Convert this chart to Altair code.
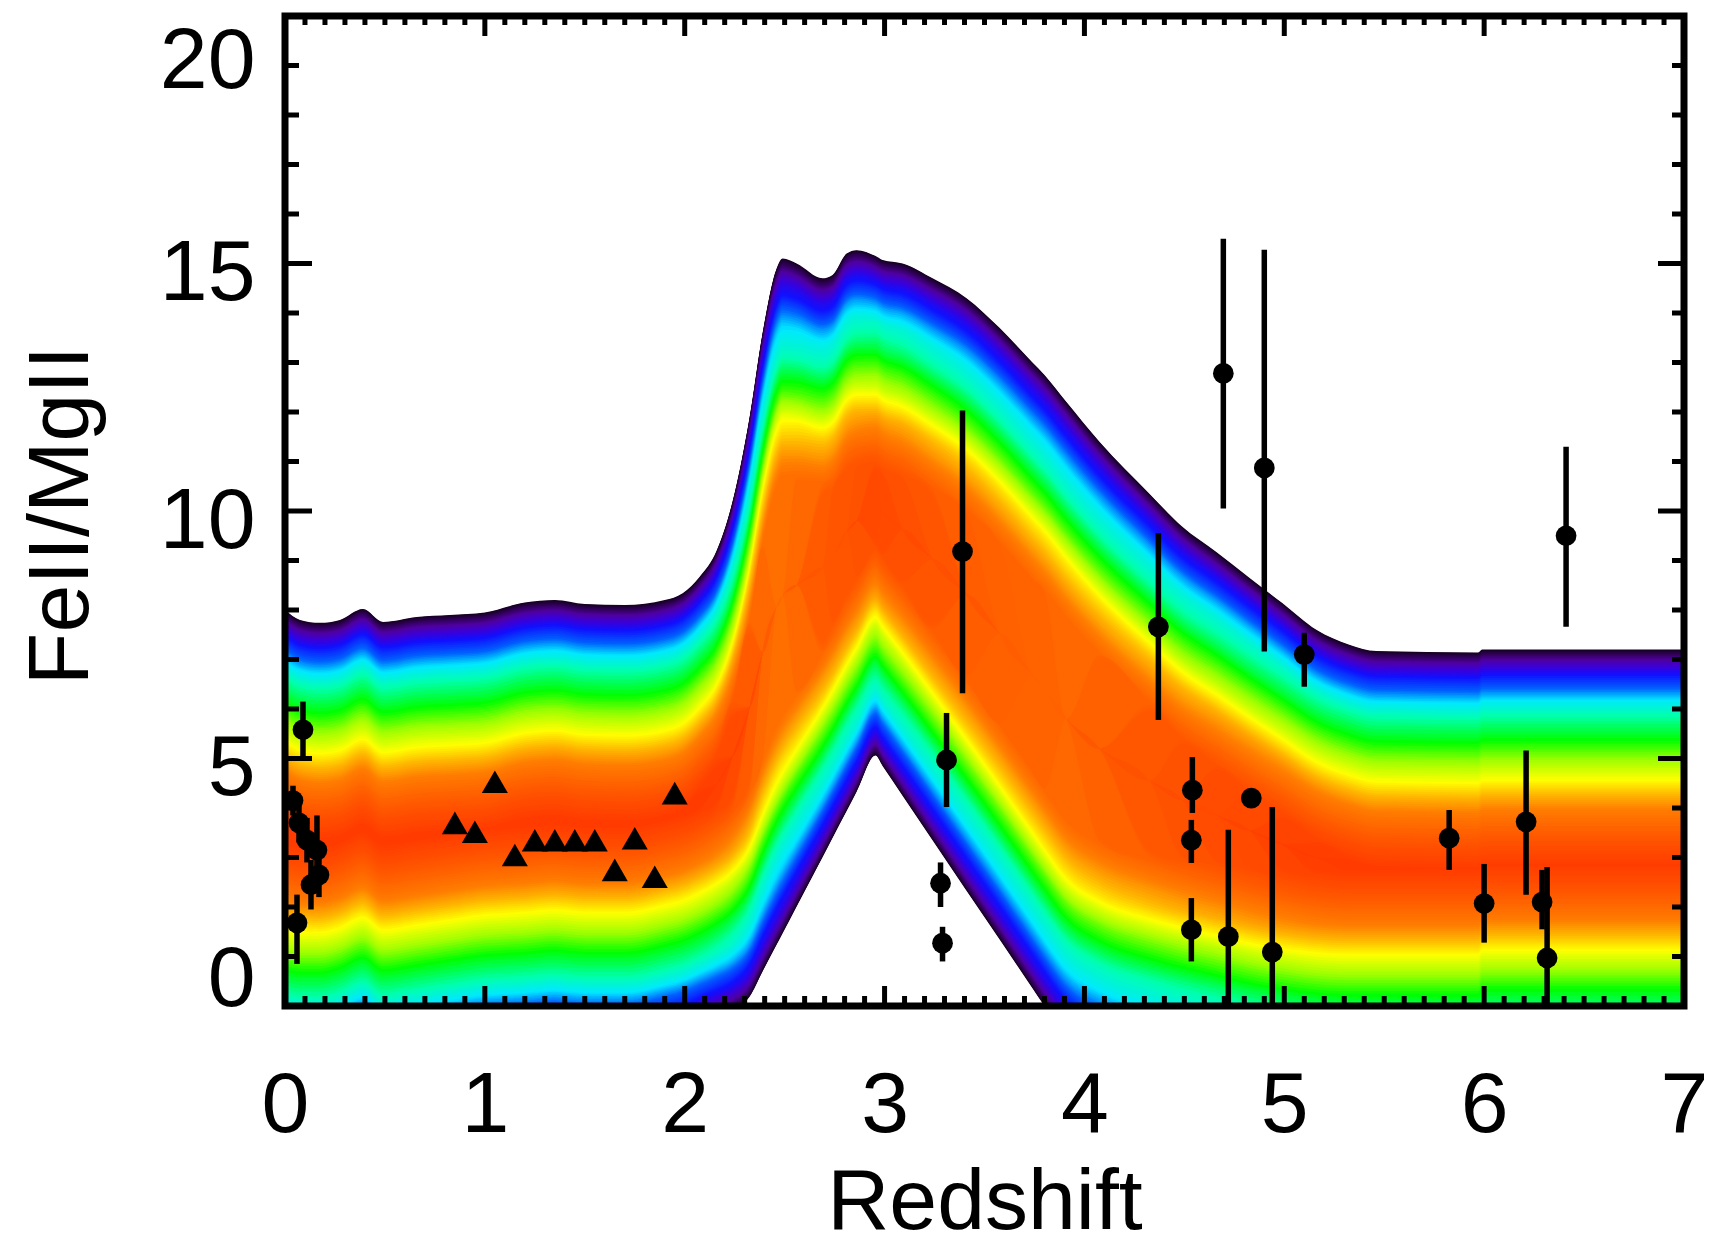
import altair as alt
import numpy as np
import pandas as pd

# ---------------- data ----------------
# model band: upper and lower edge (FeII/MgII) at redshift knots
band_x = [0.0, 0.075, 0.175, 0.275, 0.39, 0.49, 0.66, 0.825, 1.0, 1.2, 1.35, 1.5, 1.7, 1.9,
          1.99, 2.075, 2.16, 2.24, 2.325, 2.39, 2.46, 2.49, 2.56, 2.69, 2.74, 2.81, 2.86,
          2.955, 2.99, 3.09, 3.24, 3.41, 3.575, 3.74, 3.8, 3.91, 4.075, 4.325, 4.49, 4.66,
          4.825, 4.99, 5.16, 5.325, 5.46, 5.97, 5.99, 7.0]
band_top = [8.0, 7.8, 7.74, 7.8, 8.02, 7.76, 7.86, 7.9, 7.95, 8.15, 8.2, 8.12, 8.1, 8.2,
            8.34, 8.67, 9.2, 10.2, 11.9, 13.6, 14.9, 15.1, 15.0, 14.7, 14.77, 15.2, 15.27,
            15.15, 15.07, 15.0, 14.7, 14.3, 13.7, 13.0, 12.75, 12.2, 11.4, 10.35, 9.68, 9.17,
            8.65, 8.14, 7.6, 7.3, 7.17, 7.14, 7.2, 7.2]
band_bot = [-1.1, -1.15, -1.15, -1.05, -0.85, -1.1, -1.0, -0.9, -0.8, -0.75, -0.7, -0.75, -0.75, -0.6,
            -0.5, -0.35, -0.22, -0.1, 0.19, 0.70, 1.24, 1.47, 2.01, 3.01, 3.40, 3.94, 4.33,
            5.06, 4.85, 4.25, 3.35, 2.33, 1.35, 0.36, 0.0, -0.6, -1.0, -1.25, -1.35, -1.45,
            -1.55, -1.6, -1.6, -1.6, -1.6, -1.6, -1.5, -1.5]

# quasars with error bars (filled circles)
q_z = [0.09, 0.04, 0.07, 0.11, 0.16, 0.17, 0.13, 0.06,
       3.39, 3.31, 3.28, 3.29, 4.37, 4.54, 4.535, 4.535, 4.695, 4.72, 4.835, 4.90, 4.94,
       5.10, 5.825, 6.00, 6.21, 6.29, 6.315, 6.41]
q_r = [5.58, 4.15, 3.70, 3.35, 3.15, 2.65, 2.45, 1.68,
       9.18, 4.97, 2.48, 1.27, 7.66, 4.36, 3.35, 1.54, 12.78, 1.40, 4.20, 10.87, 1.09,
       7.10, 3.39, 2.07, 3.72, 2.10, 0.97, 9.50]
q_lo = [5.05, 3.85, 3.30, 2.90, 2.75, 2.20, 1.95, 0.85,
        6.32, 4.02, 2.00, 0.90, 5.78, 3.90, 2.89, 0.90, 10.05, -1.0, 4.20, 7.16, -1.0,
        6.45, 2.75, 1.28, 2.25, 1.55, -1.0, 7.66]
q_hi = [6.15, 4.45, 4.10, 3.80, 3.85, 3.20, 2.95, 2.25,
        12.03, 5.92, 2.90, 1.60, 9.55, 5.03, 3.76, 2.18, 15.50, 3.56, 4.20, 15.28, 4.02,
        7.54, 3.96, 2.87, 5.16, 2.75, 2.81, 11.30]

# composite points (filled triangles)
t_z = [0.85, 0.95, 1.05, 1.15, 1.25, 1.35, 1.45, 1.55, 1.65, 1.75, 1.85, 1.95]
t_r = [3.70, 3.52, 4.53, 3.05, 3.35, 3.35, 3.35, 3.35, 2.75, 3.39, 2.61, 4.30]

x_ticks = [0, 1, 2, 3, 4, 5, 6, 7]
y_ticks = [0, 5, 10, 15, 20]

# ---------------- layout / style ----------------
W, H = 1399, 990
FONT = "Liberation Sans"
FS = 86

# rainbow colour scale: distance from the band edge (for a band of normal width) -> colour
stop_e = [0.0, 0.08, 0.21, 0.35, 0.51, 0.78, 1.02, 1.32, 1.83, 2.23, 2.63, 2.94, 3.24, 3.64, 4.0, 4.4]
stop_c = ["#160020", "#2c0050", "#5000a0", "#3c00d8", "#1010ff", "#0060ff", "#00e8ff", "#00ffb0",
          "#00ff00", "#a0ff00", "#ffff00", "#ffb400", "#ff7c00", "#ff6000", "#ff4c00", "#ff3a00"]
stop_i = list(np.linspace(0.0, 1.0, len(stop_e)))
W0, ALPHA = 9.0, 0.45   # wider bands are less dense -> less red


def _rgb(h):
    return [int(h[i:i + 2], 16) for i in (1, 3, 5)]


stop_rgb = np.array([_rgb(c) for c in stop_c], dtype=float)


def colour_at(i):
    r = [np.interp(i, stop_i, stop_rgb[:, k]) for k in range(3)]
    return "#%02x%02x%02x" % tuple(int(round(v)) for v in r)


n_lev = 110
di = 1.0 / n_lev
lev_names, lev_cols, rows = [], [], []
for k in range(n_lev):
    ik = k * di
    name = "L%03d" % k
    lev_names.append(name)
    lev_cols.append(colour_at(ik + di / 2))
    for x, t, b in zip(band_x, band_top, band_bot):
        s = min(1.0, (W0 / (t - b)) ** ALPHA)
        mid = (t + b) / 2.0
        if ik / s > 1.0:
            lo = hi = mid
        else:
            e = float(np.interp(ik / s, stop_i, stop_e))
            lo, hi = b + e, t - e
            if lo > hi:
                lo = hi = mid
        rows.append({"z": x, "lo": lo, "hi": hi, "lev": name})
band_df = pd.DataFrame(rows)

q_df = pd.DataFrame({"z": q_z, "r": q_r, "lo": q_lo, "hi": q_hi})
t_df = pd.DataFrame({"z": t_z, "r": t_r})

xs = alt.Scale(domain=[0, 7], nice=False, zero=False)
ys = alt.Scale(domain=[0, 20], nice=False, zero=False)

x_axis = alt.Axis(values=x_ticks, format="d", labelFont=FONT, labelFontSize=FS, labelColor="black",
                  labelPadding=57, labelOverlap=False, labelFlush=False, ticks=False, tickSize=0,
                  domain=False, grid=False,
                  title="Redshift", titleFont=FONT, titleFontSize=FS, titleFontWeight="normal",
                  titleColor="black", titleBaseline="alphabetic", titleAlign="center",
                  titleX=W / 2, titleY=222)
y_axis = alt.Axis(values=y_ticks, format="d", labelFont=FONT, labelFontSize=FS, labelColor="black",
                  labelPadding=30, labelOverlap=False, labelFlush=True, labelFlushOffset=7,
                  labelOffset=10, ticks=False, tickSize=0, domain=False, grid=False,
                  title="FeII/MgII", titleFont=FONT, titleFontSize=FS, titleFontWeight="normal",
                  titleColor="black", titleAngle=270, titleBaseline="alphabetic", titleAlign="center",
                  titleX=-198, titleY=499)


def X(f):
    return alt.X(f, scale=xs, axis=x_axis)


def Y(f, **kw):
    return alt.Y(f, scale=ys, axis=y_axis, **kw)


band = alt.Chart(band_df).mark_area(clip=True, interpolate="monotone").encode(
    x=X("z:Q"),
    y=Y("lo:Q", stack=None),
    y2="hi:Q",
    color=alt.Color("lev:N", scale=alt.Scale(domain=lev_names, range=lev_cols), legend=None),
)

bars = alt.Chart(q_df).mark_rule(color="black", strokeWidth=5.5, clip=True).encode(
    x=X("z:Q"), y=Y("lo:Q"), y2="hi:Q")
dots = alt.Chart(q_df).mark_circle(color="black", opacity=1, size=430).encode(
    x=X("z:Q"), y=Y("r:Q"))
tris = alt.Chart(t_df).mark_point(shape="triangle-up", filled=True, color="black", opacity=1,
                                  size=680).encode(x=X("z:Q"), y=Y("r:Q"))

# IDL-style inward ticks on all four sides
x_minor = pd.DataFrame({"v": [i / 10 for i in range(1, 70) if i % 10]})
x_major = pd.DataFrame({"v": x_ticks[1:-1]})
y_minor = pd.DataFrame({"v": [i for i in range(1, 20) if i % 5]})
y_major = pd.DataFrame({"v": y_ticks[1:-1]})


def xtick(df, y0, y1):
    return alt.Chart(df).mark_rule(color="black", strokeWidth=5).encode(
        x=X("v:Q"), y=alt.value(y0), y2=alt.value(y1))


def ytick(df, x0, x1):
    return alt.Chart(df).mark_rule(color="black", strokeWidth=5).encode(
        y=Y("v:Q"), x=alt.value(x0), x2=alt.value(x1))


ticks = [
    xtick(x_minor, H, H - 10), xtick(x_major, H, H - 20),
    xtick(x_minor, 0, 9), xtick(x_major, 0, 20),
    ytick(y_minor, 0, 14), ytick(y_major, 0, 27),
    ytick(y_minor, W, W - 12), ytick(y_major, W, W - 26),
]

frame = alt.Chart(pd.DataFrame({"a": [0]})).mark_rect(filled=False, stroke="black", strokeWidth=7).encode(
    x=alt.value(0), x2=alt.value(W), y=alt.value(0), y2=alt.value(H))

chart = alt.layer(band, bars, dots, tris, *ticks, frame).properties(
    width=W, height=H,
    autosize=alt.AutoSizeParams(type="none"),
    padding={"left": 277, "top": 8, "right": 25, "bottom": 241},
).configure_view(stroke=None)

chart.save("out.html", embed_options={"renderer": "svg", "actions": False})
